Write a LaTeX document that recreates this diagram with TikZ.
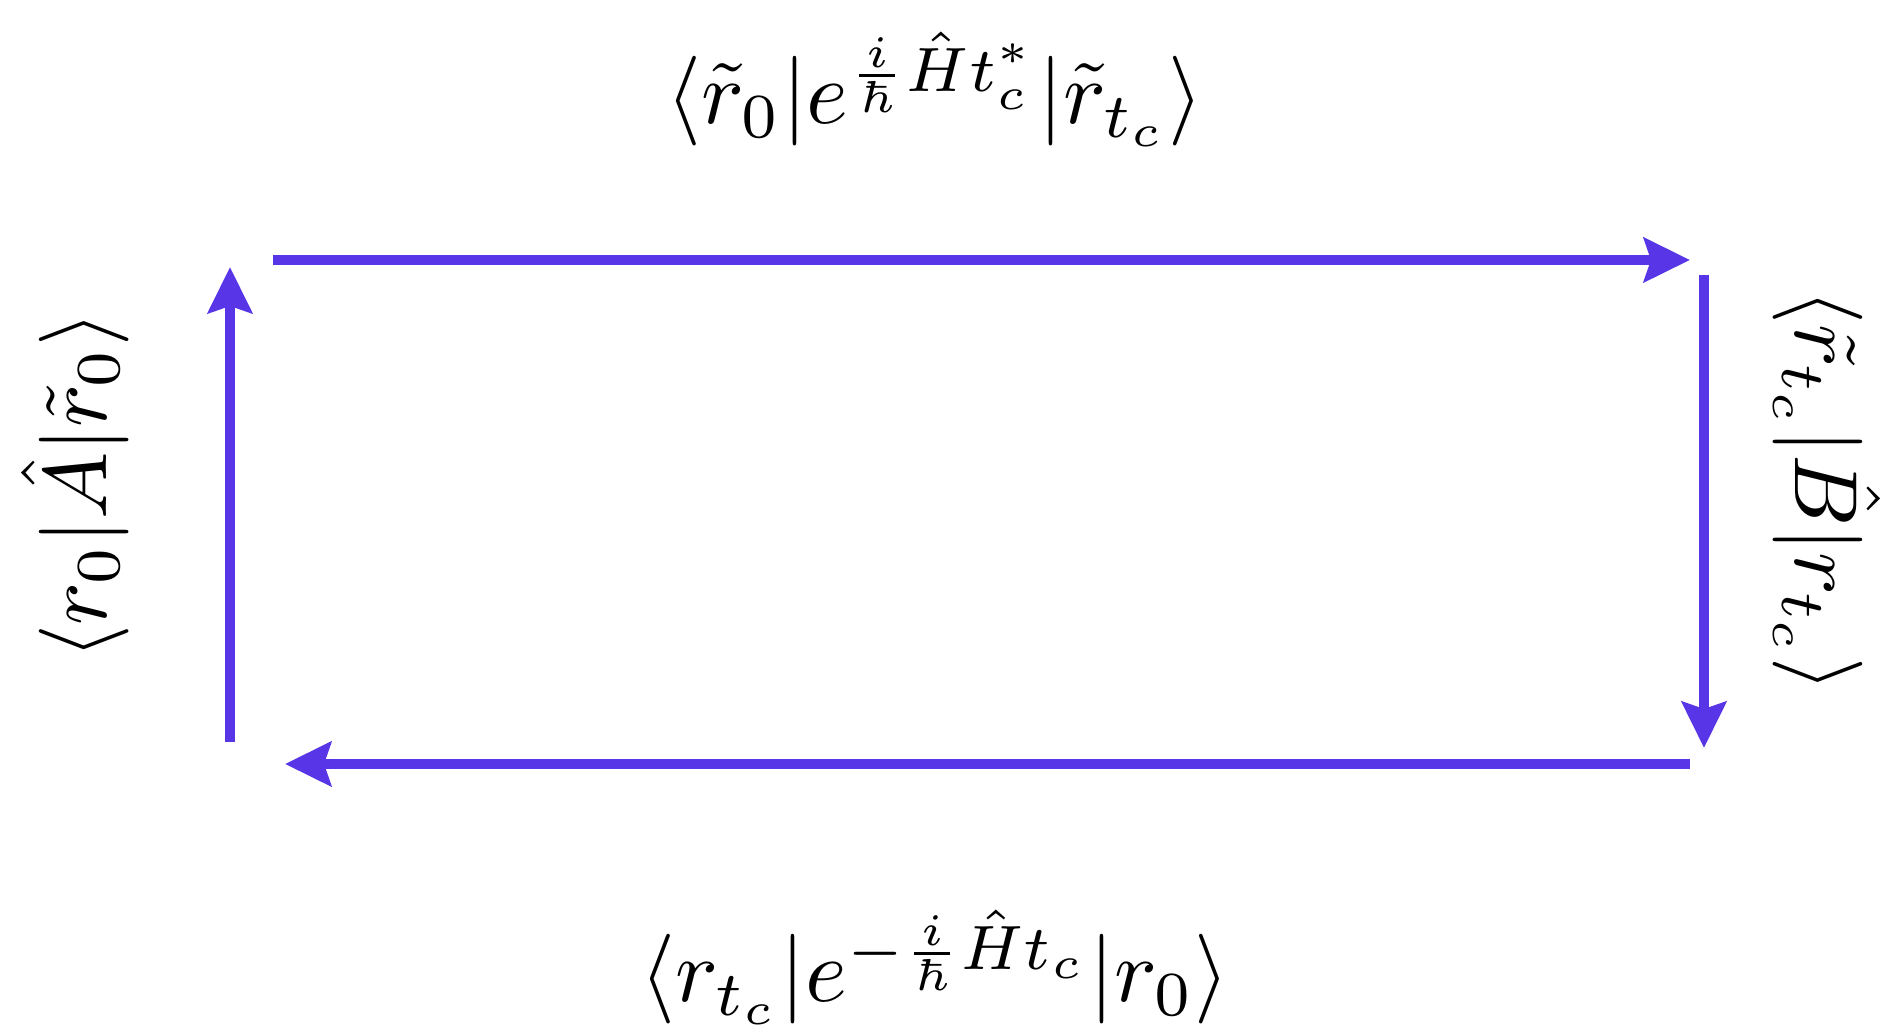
\documentclass[tikz,border=0pt]{standalone}
\usepackage{amsmath,amssymb}
\usepackage{tikz}
\usetikzlibrary{arrows.meta}

\definecolor{loopblue}{RGB}{88,54,232}

\begin{document}
\begin{tikzpicture}[scale=1,thick,
  lbl/.style={scale=2.55,inner sep=0pt},
  leg/.style={line width=2.9pt,color=loopblue,-{Stealth[length=4.6mm,width=4.4mm,inset=0.7mm]}}]

\useasboundingbox (0,0) rectangle (18.96,10.29);

% Corners of the loop.
\coordinate (tl) at (2.73,7.69);
\coordinate (tr) at (16.90,7.69);
\coordinate (rt) at (17.04,7.54);
\coordinate (rb) at (17.04,2.81);
\coordinate (br) at (16.90,2.65);
\coordinate (bl) at (2.85,2.65);
\coordinate (lb) at (2.30,2.87);
\coordinate (lt) at (2.30,7.62);

% Draw the four legs.
\draw[leg] (tl) -- (tr);
\draw[leg] (rt) -- (rb);
\draw[leg] (br) -- (bl);
\draw[leg] (lb) -- (lt);

\node[lbl] (top) at (9.35,9.40) {$\langle\tilde{r}_0|e^{\frac{i}{\hbar}\hat{H}t_c^*}|\tilde{r}_{t_c}\rangle$};
\node[lbl] (bot) at (9.35,0.62) {$\langle r_{t_c}|e^{-\frac{i}{\hbar}\hat{H}t_c}|r_0\rangle$};
\node[lbl,rotate=90] (left) at (0.75,5.43) {$\langle r_0|\hat{A}|\tilde{r}_0\rangle$};
\node[lbl,rotate=-90] (right) at (18.27,5.38) {$\langle\tilde{r}_{t_c}|\hat{B}|r_{t_c}\rangle$};

\end{tikzpicture}
\end{document}
